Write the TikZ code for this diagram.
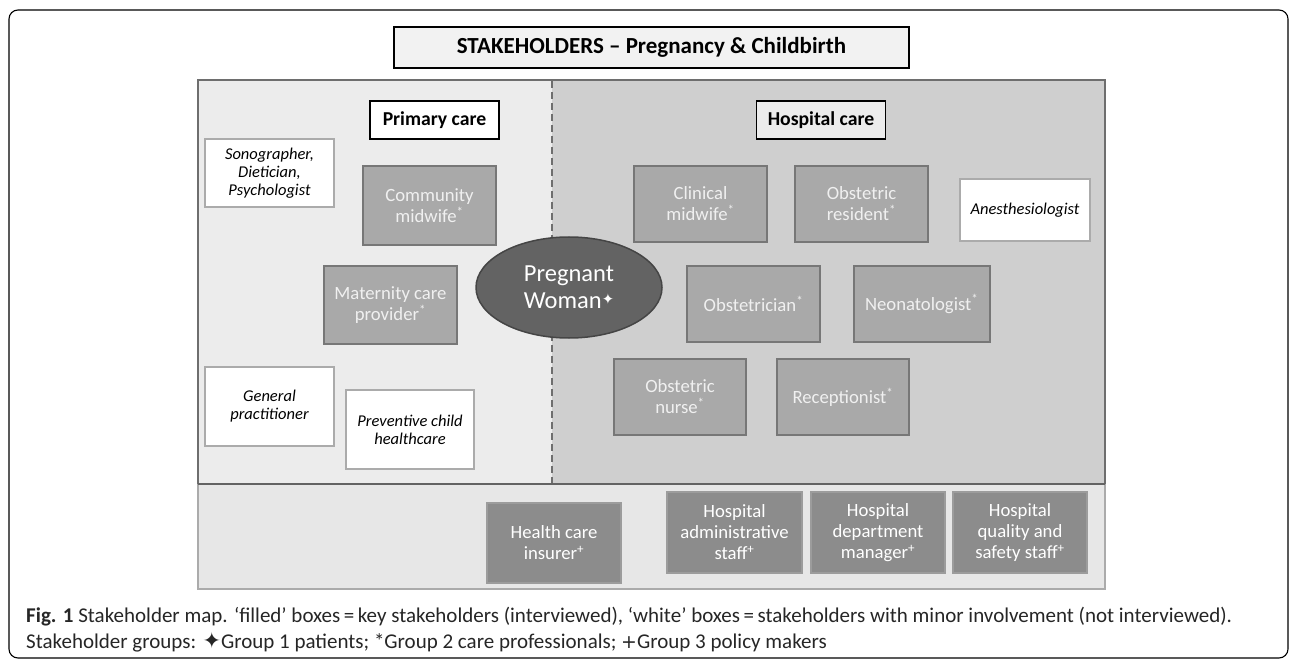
\documentclass[tikz,border=0pt]{standalone}
\usepackage{fontspec}
\setmainfont{Carlito}
\newfontfamily\symfont{DejaVu Sans}
\usetikzlibrary{shapes.geometric}
\definecolor{primfill}{HTML}{ECECEC}
\definecolor{hospfill}{HTML}{CFCFCF}
\definecolor{botfill}{HTML}{E7E7E7}
\definecolor{panelline}{HTML}{6E6E6E}
\definecolor{keyfill}{HTML}{A9A9A9}
\definecolor{keyline}{HTML}{777777}
\definecolor{polfill}{HTML}{8C8C8C}
\definecolor{polline}{HTML}{9C9C9C}
\definecolor{minorline}{HTML}{ABABAB}
\definecolor{womanfill}{HTML}{636363}
\definecolor{womanline}{HTML}{454545}
\newcommand{\gtwo}{\textsuperscript{*}}
\newcommand{\gthree}{\textsuperscript{+}}
\newcommand{\gone}{{\symfont\raisebox{0.35ex}{\scalebox{0.6}{✦}}}}
\begin{document}
\begin{tikzpicture}[x=1pt,y=-1pt,
  every node/.style={inner sep=0pt, align=center},
  keybox/.style={draw=keyline, fill=keyfill, line width=1.5pt, text=white!94!black,
    font=\fontsize{18.7}{21}\selectfont},
  polbox/.style={draw=polline, fill=polfill, line width=1.5pt, text=white,
    font=\fontsize{18.7}{21}\selectfont},
  minorbox/.style={draw=minorline, fill=white, line width=1.5pt, text=black,
    font=\fontsize{16.5}{18}\selectfont\itshape},
  headbox/.style={draw=black, line width=1.8pt, text=black,
    font=\fontsize{19.7}{22}\selectfont\bfseries},
  captext/.style={anchor=base west, font=\fontsize{21}{24}\selectfont, text=black!85}
]
\useasboundingbox (0,0) rectangle (1290,660);
\fill[white] (0,0) rectangle (1290,660);

% outer figure frame
\draw[line width=1.1pt, rounded corners=9pt] (9,10) rectangle (1288,658);

% group panels
\fill[primfill] (198,80) rectangle (552,484);
\fill[hospfill] (552,80) rectangle (1105,484);
\draw[minorline, line width=1.5pt, fill=botfill] (198,484) rectangle (1105,589);
\draw[panelline, line width=1.5pt] (198,484) -- (198,80) -- (1105,80) -- (1105,484);
\draw[panelline!90!black, line width=2pt] (198,484) -- (1105,484);
\draw[panelline, line width=1.8pt, dash pattern=on 7pt off 4pt] (552,81) -- (552,483);

% title and group headings
\node[headbox, fill=primfill!70!white, minimum width=515, minimum height=41,
  font=\fontsize{23}{26}\selectfont\bfseries] (title) at (651.5,47.5)
  {STAKEHOLDERS -- Pregnancy \& Childbirth};
\node[headbox, fill=white, minimum width=129, minimum height=38] (prim) at (434.5,120) {Primary care};
\node[headbox, fill=primfill, minimum width=129, minimum height=38] (hosp) at (821,120) {Hospital care};

% primary care
\node[minorbox, minimum width=129, minimum height=68] (sono) at (269.5,173) {Sonographer,\\Dietician,\\Psychologist};
\node[keybox, minimum width=133, minimum height=79] (cmid) at (429.5,205.5) {Community\\midwife\gtwo};
\node[keybox, minimum width=133, minimum height=78] (mat) at (390.5,305) {Maternity care\\provider\gtwo};
\node[minorbox, minimum width=129, minimum height=79] (gp) at (269.5,406.5) {General\\practitioner};
\node[minorbox, minimum width=128, minimum height=79] (pch) at (410,429.5) {Preventive child\\healthcare};

% patient
\node[ellipse, draw=womanline, fill=womanfill, line width=1.5pt, minimum width=186, minimum height=101,
  text=white, font=\fontsize{24.5}{27}\selectfont] (woman) at (569,287.5) {Pregnant\\Woman\gone};

% hospital care
\node[keybox, minimum width=133, minimum height=76] (clin) at (700.5,204) {Clinical\\midwife\gtwo};
\node[keybox, minimum width=133, minimum height=76] (ores) at (861.5,204) {Obstetric\\resident\gtwo};
\node[minorbox, minimum width=130, minimum height=62] (anes) at (1025,210) {Anesthesiologist};
\node[keybox, minimum width=133, minimum height=76] (obst) at (753.5,304) {Obstetrician\gtwo};
\node[keybox, minimum width=136, minimum height=76] (neo) at (921.75,304) {Neonatologist\gtwo};
\node[keybox, minimum width=132, minimum height=76] (onur) at (680,397) {Obstetric\\nurse\gtwo};
\node[keybox, minimum width=132, minimum height=76] (rec) at (843,397) {Receptionist\gtwo};

% policy makers
\node[polbox, minimum width=134, minimum height=80] (ins) at (554,543) {Health care\\insurer\gthree};
\node[polbox, minimum width=135, minimum height=81] (adm) at (734.5,532.5) {Hospital\\administrative\\staff\gthree};
\node[polbox, minimum width=134, minimum height=81] (mgr) at (878,532.5) {Hospital\\department\\manager\gthree};
\node[polbox, minimum width=134, minimum height=81] (qual) at (1020,532.5) {Hospital\\quality and\\safety staff\gthree};

% caption
\node[captext] (cap1) at (26,622) {\textbf{Fig. 1} Stakeholder map. `filled' boxes\,=\,key stakeholders (interviewed), `white' boxes\,=\,stakeholders with minor involvement (not interviewed).};
\node[captext] (cap2) at (26,648) {Stakeholder groups: {\symfont\scalebox{1.05}{✦}}Group 1 patients; *Group 2 care professionals; {\symfont\scalebox{0.9}{+}}Group 3 policy makers};
\end{tikzpicture}
\end{document}
